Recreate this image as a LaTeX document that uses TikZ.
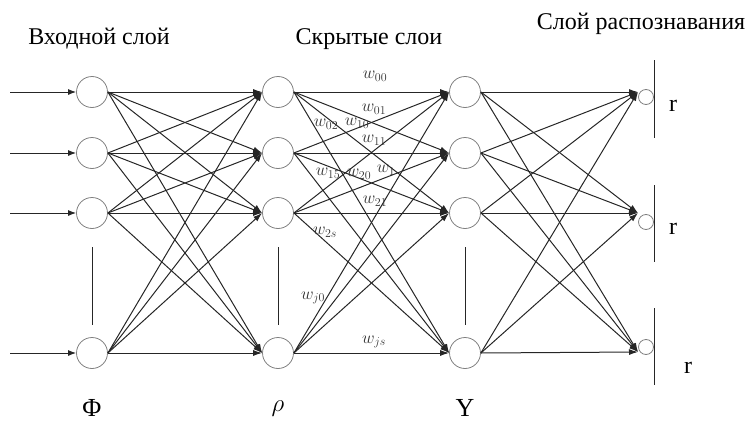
\documentclass[tikz,border=0pt]{standalone}
\usepackage{fontspec}
\setmainfont{Liberation Serif}
\usetikzlibrary{arrows.meta}
\begin{document}
\begin{tikzpicture}[x=1pt,y=-1pt,
  neuron/.style={circle,draw=black!50,line width=0.8pt,minimum size=31pt,inner sep=0pt},
  outn/.style={circle,draw=black!50,line width=0.8pt,minimum size=15pt,inner sep=0pt},
  conn/.style={draw=black!85,line width=1pt,-{Latex[length=9pt,width=6pt]}},
  inconn/.style={draw=black!85,line width=1pt,-{Latex[length=8pt,width=6pt]}},
  bar/.style={draw=black!85,line width=1pt},
  wl/.style={font=\fontsize{17}{17}\selectfont,text=black!80,inner sep=0pt},
  title/.style={font=\fontsize{24}{24}\selectfont,anchor=base,inner sep=0pt},
  sym/.style={font=\fontsize{26}{26}\selectfont,anchor=base,inner sep=0pt},
  rl/.style={font=\fontsize{24}{24}\selectfont,anchor=base,inner sep=0pt}]
\useasboundingbox (0,0) rectangle (755,423);
% titles
\node[title] (tin) at (99,44) {Входной слой};
\node[title] (thid) at (369,44) {Скрытые слои};
\node[title] (tout) at (641,29) {Слой распознавания};
% neurons
\foreach \y [count=\i] in {92,153,213,353} {
  \node[neuron] (i\i) at (92,\y) {};
  \node[neuron] (h\i) at (278,\y) {};
  \node[neuron] (g\i) at (465,\y) {};
  \coordinate (in\i) at (10,\y);
}
% output units
\foreach \y/\ty [count=\i] in {97/92,222/213,347/352} {
  \node[outn] (o\i) at (646,\y) {};
  \coordinate (t\i) at (638,\ty);
}
% input arrows
\foreach \i in {1,...,4} \draw[inconn] (in\i) -- (i\i.west);
% full connections
\foreach \a in {1,...,4} \foreach \b in {1,...,4} {
  \draw[conn] (i\a.east) -- (h\b.west);
  \draw[conn] (h\a.east) -- (g\b.west);
}
\foreach \a in {1,...,4} \foreach \b in {1,...,3} \draw[conn] (g\a.east) -- (t\b);
% ellipsis bars
\foreach \x in {92,278,465} \draw[bar] (\x,247) -- (\x,325);
% output bars
\coordinate (b1a) at (654,60);  \coordinate (b1b) at (654,138);
\coordinate (b2a) at (654,185); \coordinate (b2b) at (654,262);
\coordinate (b3a) at (654,308); \coordinate (b3b) at (654,385);
\foreach \i in {1,2,3} \draw[bar] (b\i a) -- (b\i b);
\node[rl] (r1) at (673,111) {r};
\node[rl] (r2) at (673,234) {r};
\node[rl] (r3) at (688,373) {r};
% layer symbols
\node[sym] (phi) at (92,416) {Φ};
\node[sym] (rho) at (278,411) {$\rho$};
\node[sym] (ups) at (465,416) {Y};
% weight labels
\node[wl] (w00) at (375,76) {$w_{00}$};
\node[wl] (w01) at (374,109) {$w_{01}$};
\node[wl] (w02) at (326,124) {$w_{02}$};
\node[wl] (w10) at (357,123) {$w_{10}$};
\node[wl] (w11) at (374,140) {$w_{11}$};
\node[wl] (w15) at (328,173) {$w_{15}$};
\node[wl] (w20) at (359,174) {$w_{20}$};
\node[wl] (w1x) at (386,170) {$w_{1}$};
\node[wl] (w21) at (375,201) {$w_{21}$};
\node[wl] (w2s) at (325,232) {$w_{2s}$};
\node[wl] (wj0) at (313,298) {$w_{j0}$};
\node[wl] (wjs) at (374,342) {$w_{js}$};
\end{tikzpicture}
\end{document}
